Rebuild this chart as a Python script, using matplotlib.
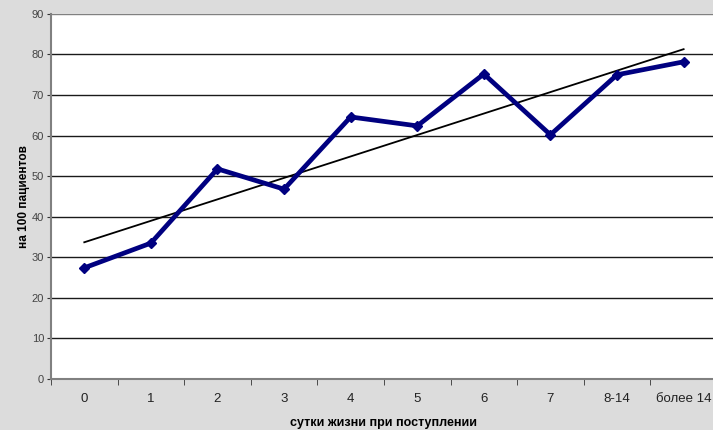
import numpy as np
import matplotlib.pyplot as plt
from matplotlib.ticker import FixedLocator

plt.rcParams['font.family'] = ['Liberation Sans', 'DejaVu Sans']

categories = ['0', '1', '2', '3', '4', '5', '6', '7', '8-14', 'более 14']
values = [27.4, 33.5, 51.8, 46.8, 64.6, 62.4, 75.2, 60.2, 75.0, 78.2]

x = np.arange(len(categories))
slope, intercept = np.polyfit(x, values, 1)
trend = slope * x + intercept

fig = plt.figure(figsize=(7.13, 4.30), dpi=100)
fig.patch.set_facecolor('#dcdcdc')
ax = fig.add_axes([0.0715, 0.1186, 0.934, 0.849])
ax.set_facecolor('white')

# horizontal grid lines
for v in range(10, 100, 10):
    ax.axhline(v, color='#1a1a1a' if v < 90 else '#808080', lw=1.0, zorder=1)

ax.plot(x, trend, color='black', lw=1.3, zorder=2)
ax.plot(x, values, color='#000080', lw=3.4, marker='D', markersize=5.5,
        markerfacecolor='#000080', markeredgecolor='#000080', zorder=3)

ax.set_xlim(-0.5, len(categories) - 0.5)
ax.set_ylim(0, 90)
ax.set_yticks(range(0, 100, 10))
ax.set_xticks(x)
ax.set_xticklabels(categories, fontsize=9.5, color='#222222')
ax.xaxis.set_minor_locator(FixedLocator(np.arange(-0.5, len(categories), 1.0)))
ax.tick_params(axis='x', which='major', length=0, pad=10)
ax.tick_params(axis='x', which='minor', length=4, direction='out', color='#333333')
ax.tick_params(axis='y', length=3, direction='out', color='#333333',
               labelsize=8, labelcolor='#444444', pad=2)

for side in ['top', 'right']:
    ax.spines[side].set_visible(False)
for side in ['left', 'bottom']:
    ax.spines[side].set_color('#808080')
    ax.spines[side].set_linewidth(1.5)

ax.set_xlabel('сутки жизни при поступлении', fontsize=9, fontweight='bold', labelpad=9)
ax.set_ylabel('на 100 пациентов', fontsize=8.5, fontweight='bold', labelpad=1)

fig.savefig('out.png', dpi=100, facecolor=fig.get_facecolor())
